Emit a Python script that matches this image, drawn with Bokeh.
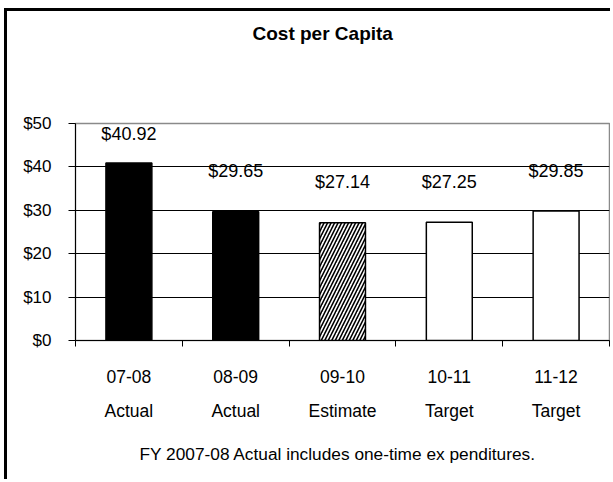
from bokeh.plotting import figure
from bokeh.models import (ColumnDataSource, Range1d, LinearAxis, FixedTicker,
                          NumeralTickFormatter, Title, Grid)
from bokeh.embed import file_html
from bokeh.resources import INLINE
from bokeh.core.properties import value

# Cost per capita by fiscal year
fiscal_years = ["07-08", "08-09", "09-10", "10-11", "11-12"]
stages = ["Actual", "Actual", "Estimate", "Target", "Target"]
cost_per_capita = [40.92, 29.65, 27.14, 27.25, 29.85]
y_ticks = [0, 10, 20, 30, 40, 50]
title_text = "Cost per Capita"
footnote_text = "FY 2007-08 Actual includes one-time ex penditures."

FONT = "Liberation Sans"

stage_fill = {"Actual": "black", "Estimate": "white", "Target": "white"}
stage_hatch = {"Actual": "blank", "Estimate": "right_diagonal_line", "Target": "blank"}

n = len(fiscal_years)
centers = [i + 0.5 for i in range(n)]
source = ColumnDataSource(dict(
    x=centers,
    top=cost_per_capita,
    fill=[stage_fill[s] for s in stages],
    hatch=[stage_hatch[s] for s in stages],
    label=[f"${v:.2f}" for v in cost_per_capita],
    # value labels float above each bar, kept inside the plot area
    label_y=[min(v + 9.3, 47.5) for v in cost_per_capita],
))

p = figure(width=606, height=471, output_backend="svg", toolbar_location=None,
           x_range=Range1d(0, n), y_range=Range1d(0, 50),
           x_axis_location=None, y_axis_location=None,
           min_border_left=68, min_border_right=4,
           min_border_top=112, min_border_bottom=142)
# drop the default grids; horizontal lines are added below
p.center = [r for r in p.center if not isinstance(r, Grid)]
p.outline_line_color = "#8a8a8a"
p.outline_line_width = 1.5
p.background_fill_color = "white"
p.border_fill_color = "white"
# chart border along the top and left edges
p.margin = (8, 0, 0, 4)
p.styles = {"border-left": "3px solid black", "border-top": "3px solid black"}

# horizontal gridlines
p.add_layout(Grid(dimension=1, ticker=FixedTicker(ticks=y_ticks[1:-1]),
                  grid_line_color="black", grid_line_width=1))

# y axis in dollars
yaxis = LinearAxis(ticker=FixedTicker(ticks=y_ticks),
                   formatter=NumeralTickFormatter(format="$0"))
yaxis.axis_line_color = "black"
yaxis.major_tick_out = 7
yaxis.major_tick_in = 0
yaxis.minor_tick_line_color = None
yaxis.major_label_standoff = 17
yaxis.major_label_text_font = FONT
yaxis.major_label_text_font_size = "17px"
yaxis.major_label_text_color = "black"
p.add_layout(yaxis, "left")

# x axis: year labels centred under bars, ticks at category boundaries
year_axis = LinearAxis(ticker=FixedTicker(ticks=centers, minor_ticks=list(range(n + 1))))
year_axis.major_label_overrides = {c: fy for c, fy in zip(centers, fiscal_years)}
year_axis.axis_line_color = "black"
year_axis.major_tick_line_color = None
year_axis.major_tick_out = 0
year_axis.major_tick_in = 0
year_axis.minor_tick_line_color = "black"
year_axis.minor_tick_out = 6
year_axis.minor_tick_in = 0
year_axis.major_label_standoff = 23
year_axis.major_label_text_font = FONT
year_axis.major_label_text_font_size = "17.5px"
year_axis.major_label_text_color = "black"
p.add_layout(year_axis, "below")

# second row of category labels: the stage of each figure
stage_axis = LinearAxis(ticker=FixedTicker(ticks=centers))
stage_axis.major_label_overrides = {c: s for c, s in zip(centers, stages)}
stage_axis.axis_line_color = None
stage_axis.major_tick_line_color = None
stage_axis.minor_tick_line_color = None
stage_axis.major_tick_out = 0
stage_axis.major_tick_in = 0
stage_axis.major_label_standoff = 15
stage_axis.major_label_text_font = FONT
stage_axis.major_label_text_font_size = "17.5px"
stage_axis.major_label_text_color = "black"
p.add_layout(stage_axis, "below")

# bars
p.vbar(x="x", top="top", bottom=0, width=0.43, source=source,
       fill_color="fill", line_color="black", line_width=1.5,
       hatch_pattern="hatch", hatch_color="black", hatch_scale=7, hatch_weight=1.6)

# value labels
p.text(x="x", y="label_y", text="label", source=source,
       text_font=value(FONT), text_font_size="18px", text_color="black",
       text_align="center", text_baseline="middle")

# empty gap between the plot area and the title
p.add_layout(Title(text=" ", text_font=FONT, text_font_size="10px", standoff=65), "above")
# title, near the top edge of the chart
p.add_layout(Title(text=title_text, align="left", offset=177, standoff=0,
                   vertical_align="top",
                   text_font=FONT, text_font_style="bold", text_font_size="19px",
                   text_color="black"), "above")
# footnote
p.add_layout(Title(text=footnote_text, align="left", offset=64, standoff=37,
                   text_font=FONT, text_font_style="normal", text_font_size="17.3px",
                   text_color="black"), "below")

open("out.html", "w").write(file_html(p, INLINE))
